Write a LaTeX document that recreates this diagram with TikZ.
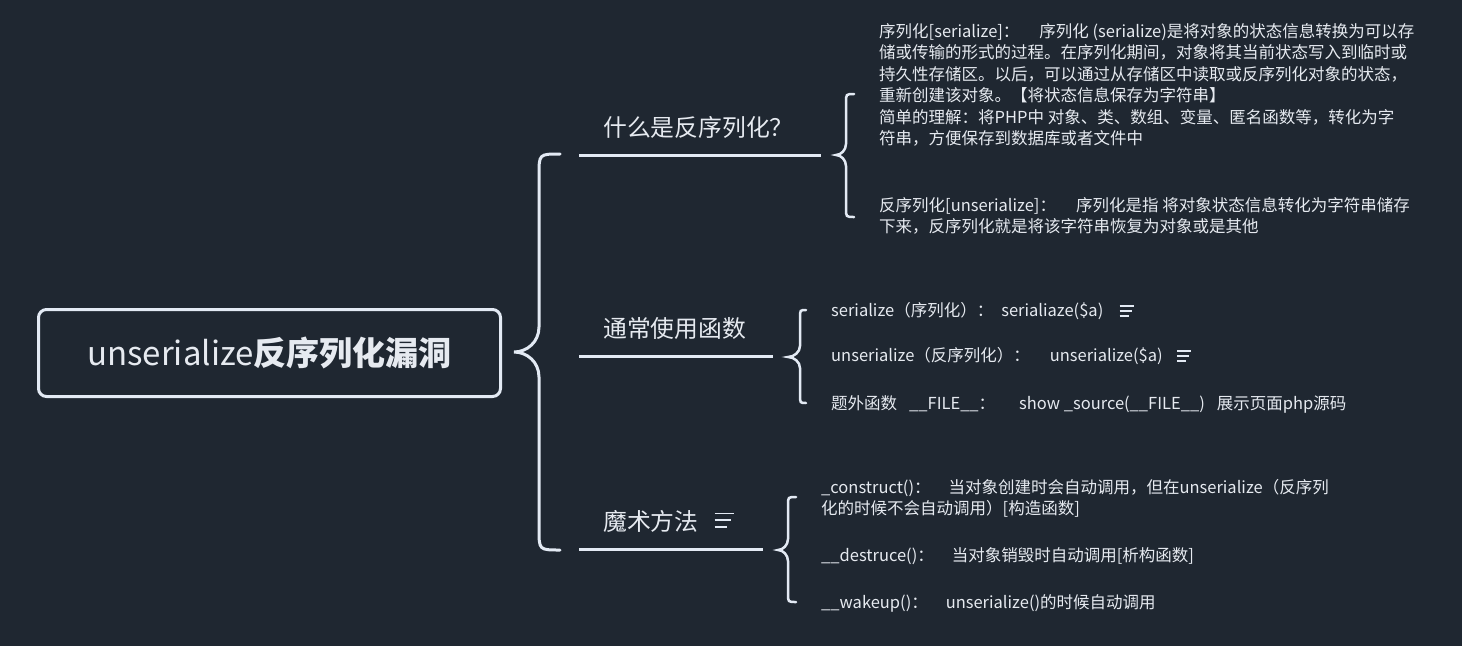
\documentclass[tikz,border=0pt]{standalone}
\usepackage{fontspec}
\setmainfont{Noto Sans CJK SC}
\usetikzlibrary{calc}
\definecolor{bg}{HTML}{1F2731}
\definecolor{ln}{HTML}{E3EAF4}
\definecolor{tx}{HTML}{E6EAF0}
\tikzset{
  rootbox/.style={draw=ln, line width=3pt, rounded corners=8pt, minimum width=462pt, minimum height=87pt, text=tx, font=\fontsize{33}{39}\selectfont, inner sep=0pt},
  btitle/.style={text=tx, font=\fontsize{23.8}{28}\selectfont, inner sep=0pt, anchor=west},
  leaf/.style={text=tx, font=\fontsize{16.5}{21.5}\selectfont, inner sep=0pt, anchor=west},
  leafpar/.style={text=tx, font=\fontsize{16.5}{21.5}\selectfont, inner sep=0pt, anchor=north west, align=left},
  bline/.style={draw=ln, line width=3pt},
  bigbrace/.style={draw=ln, line width=3pt, line cap=round},
  smallbrace/.style={draw=ln, line width=2.5pt, line cap=round},
  notesicon/.pic={\draw[ln, line width=1.5pt] (0,-5) -- (14,-5) (0,0) -- (12,0) (0,5) -- (9,5);}
}
\begin{document}
\begin{tikzpicture}[x=1pt,y=-1pt]
\fill[bg] (0,0) rectangle (1462,646);
\useasboundingbox (0,0) rectangle (1462,646);

% root
\node[rootbox] (root) at (269.5,353) {unserialize{\bfseries 反序列化漏洞}};

% big brace
\coordinate (bbtip) at (514,352);
\coordinate (bbtop) at (560,154);
\coordinate (bbbot) at (560,550);
\draw[bigbrace] (bbtop) .. controls (539,154) and (539,154) .. (539,175)
  -- (539,327) .. controls (539,342) and (527,352) .. (bbtip)
  .. controls (527,352) and (539,362) .. (539,377)
  -- (539,529) .. controls (539,550) and (539,550) .. (bbbot);

% branch lines
\coordinate (b1s) at (579,155.5); \coordinate (b1e) at (821,155.5);
\coordinate (b2s) at (579,356.5); \coordinate (b2e) at (773,356.5);
\coordinate (b3s) at (579,549.5); \coordinate (b3e) at (763,549.5);
\draw[bline] (b1s) -- (b1e);
\draw[bline] (b2s) -- (b2e);
\draw[bline] (b3s) -- (b3e);

% branch titles
\node[btitle] (t1) at (603,127) {什么是反序列化？};
\node[btitle] (t2) at (603,328) {通常使用函数};
\node[btitle] (t3) at (603,521) {魔术方法};
\pic[scale=1.35] at ($(t3.east)+(16,-1)$) {notesicon};

% small brace 1
\coordinate (s1tip) at (836,155);
\draw[smallbrace] (854,94) .. controls (846,94) and (846,94) .. (846,103)
  -- (846,144) .. controls (846,150) and (841,155) .. (s1tip)
  .. controls (841,155) and (846,160) .. (846,166)
  -- (846,208) .. controls (846,217) and (846,217) .. (854,217);

% small brace 2
\coordinate (s2tip) at (788,357);
\draw[smallbrace] (806,310) .. controls (800,310) and (800,310) .. (800,318)
  -- (800,346) .. controls (800,352) and (794,357) .. (s2tip)
  .. controls (794,357) and (800,362) .. (800,368)
  -- (800,395) .. controls (800,403) and (800,403) .. (806,403);

% small brace 3
\coordinate (s3tip) at (778,550);
\draw[smallbrace] (796,497) .. controls (788,497) and (788,497) .. (788,505)
  -- (788,539) .. controls (788,545) and (783,550) .. (s3tip)
  .. controls (783,550) and (788,555) .. (788,561)
  -- (788,594) .. controls (788,602) and (788,602) .. (796,602);

% group 1 leaves
\node[leafpar] (g1a) at (879,23) {序列化[serialize]：\hspace{20pt}序列化 (serialize)是将对象的状态信息转换为可以存\\
储或传输的形式的过程。在序列化期间，对象将其当前状态写入到临时或\\
持久性存储区。以后，可以通过从存储区中读取或反序列化对象的状态，\\
重新创建该对象。【将状态信息保存为字符串】\\
简单的理解：将PHP中 对象、类、数组、变量、匿名函数等，转化为字\\
符串，方便保存到数据库或者文件中};
\node[leafpar] (g1b) at (879,197) {反序列化[unserialize]：\hspace{20pt}序列化是指 将对象状态信息转化为字符串储存\\
下来，反序列化就是将该字符串恢复为对象或是其他};

% group 2 leaves
\node[leaf] (g21) at (831,311) {serialize（序列化）：\hspace{8pt}serialiaze(\$a)};
\pic at ($(g21.east)+(16,0)$) {notesicon};
\node[leaf] (g22) at (831,356) {unserialize（反序列化）：\hspace{20pt}unserialize(\$a)};
\pic at ($(g22.east)+(14,0)$) {notesicon};
\node[leaf] (g23) at (831,404) {题外函数\hspace{12pt}\_\_FILE\_\_：\hspace{24pt}show \_source(\_\_FILE\_\_)\hspace{12pt}展示页面php源码};

% group 3 leaves
\node[leafpar] (g31) at (821,479) {\_construct()：\hspace{18pt}当对象创建时会自动调用，但在unserialize（反序列\\
化的时候不会自动调用）[构造函数]};
\node[leaf] (g32) at (821,556) {\_\_destruce()：\hspace{18pt}当对象销毁时自动调用[析构函数]};
\node[leaf] (g33) at (821,603) {\_\_wakeup()：\hspace{18pt}unserialize()的时候自动调用};
\end{tikzpicture}
\end{document}
